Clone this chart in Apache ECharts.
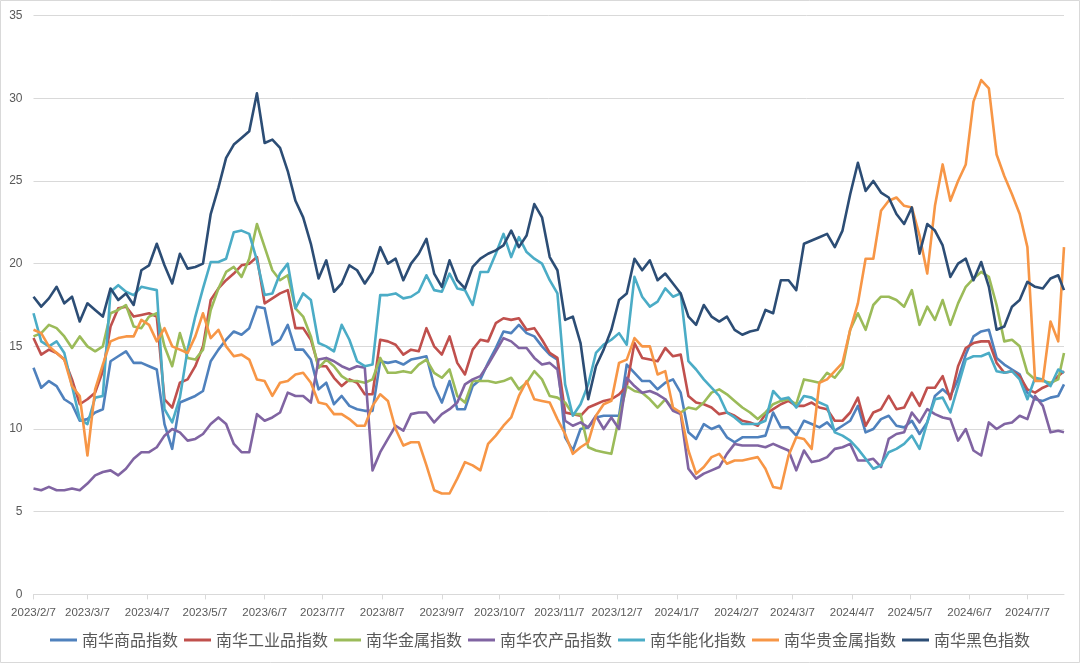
<!DOCTYPE html>
<html><head><meta charset="utf-8">
<script src="https://cdn.jsdelivr.net/npm/echarts@6/dist/echarts.min.js"></script>
<style>html,body{margin:0;padding:0;background:#fff}#c{width:1080px;height:663px}</style>
</head><body><div id="c"></div>
<script>
// x range (calendar days) and sampling step of the values below
const START = [2023, 2, 7], END = [2024, 7, 26], STEP = 4;
const tickLabels = ['2023/2/7','2023/3/7','2023/4/7','2023/5/7','2023/6/7','2023/7/7','2023/8/7','2023/9/7','2023/10/7','2023/11/7','2023/12/7','2024/1/7','2024/2/7','2024/3/7','2024/4/7','2024/5/7','2024/6/7','2024/7/7'];
const seriesNames = ['南华商品指数','南华工业品指数','南华金属指数','南华农产品指数','南华能化指数','南华贵金属指数','南华黑色指数'];

const commodity = [13.7,12.5,12.9,12.6,11.8,11.5,10.5,10.6,11.0,11.2,14.1,14.4,14.7,14.0,14.0,13.8,13.6,10.3,
 8.8,11.6,11.8,12.0,12.3,14.1,14.8,15.4,15.9,15.7,16.1,17.4,17.3,15.1,15.4,16.3,14.8,
 14.8,14.2,12.4,12.8,11.5,12.0,11.4,11.2,11.1,11.1,14.1,14.0,14.1,13.9,14.2,14.3,14.4,
 12.6,11.6,12.9,11.2,11.2,12.6,13.0,14.0,14.9,15.9,15.8,16.3,15.8,15.6,15.0,14.5,14.2,
 9.5,8.7,10.0,10.1,10.7,10.8,10.8,10.8,13.9,13.4,12.9,12.9,12.4,12.8,13.0,12.2,9.8,
 9.4,10.3,10.0,10.2,9.5,9.2,9.5,9.5,9.5,9.6,11.0,10.1,10.1,9.6,10.5,10.3,
 10.1,10.4,9.9,10.2,10.5,11.4,9.8,10.0,10.6,10.8,10.2,10.1,10.5,9.7,10.4,12.0,12.4,
 12.0,13.0,14.5,15.6,15.9,16.0,14.3,13.9,13.6,13.3,12.2,11.8,11.7,11.9,12.0,12.7];
const industrial = [15.5,14.5,14.8,14.6,14.2,13.0,11.5,11.8,12.2,13.5,16.2,17.3,17.4,16.8,16.9,17.0,16.8,11.8,
 11.3,12.8,13.0,13.8,15.0,17.8,18.5,19.0,19.4,19.9,20.0,20.4,17.6,17.9,18.2,18.4,16.1,
 16.1,15.4,13.8,13.8,13.1,12.6,13.0,12.8,12.1,12.1,15.4,15.3,15.1,14.5,14.8,14.7,16.1,
 15.0,14.5,15.6,14.0,13.3,14.8,15.4,15.3,16.4,16.7,16.6,16.7,16.0,16.1,15.4,14.6,14.3,
 11.0,10.9,10.8,11.3,11.5,11.7,11.8,12.1,12.6,15.2,14.3,14.2,14.1,14.9,14.4,14.5,12.0,
 11.6,11.5,11.3,10.9,11.0,10.8,10.5,10.4,10.2,10.9,11.2,11.5,11.7,11.4,11.4,11.6,
 11.3,11.2,10.5,10.5,11.0,11.9,10.2,11.0,11.2,12.0,11.2,11.3,12.2,11.4,12.5,12.5,13.2,
 11.8,13.8,14.9,15.2,15.3,15.3,14.0,13.4,13.5,13.2,12.4,12.2,12.5,12.7,13.2,13.5];
const metals = [15.6,15.8,16.3,16.1,15.6,14.9,15.6,15.0,14.7,15.0,17.0,17.2,17.5,16.2,16.1,16.8,17.0,15.0,
 13.8,15.8,14.3,14.2,14.8,17.2,18.5,19.5,19.8,19.2,20.3,22.4,21.0,19.6,19.0,19.3,17.3,
 16.8,15.6,13.7,14.2,13.8,13.2,12.9,12.9,12.8,13.0,14.3,13.4,13.4,13.5,13.4,13.9,14.2,
 13.4,13.1,13.6,12.0,11.6,12.9,12.9,12.9,12.8,12.9,13.1,12.4,12.8,13.5,13.0,12.0,11.9,
 11.6,10.9,10.9,8.9,8.7,8.6,8.5,10.7,12.6,12.3,12.2,11.8,11.3,11.8,11.2,11.0,11.3,
 11.2,11.6,12.2,12.4,12.1,11.7,11.3,11.0,10.6,11.0,11.5,11.7,11.8,11.5,13.0,12.9,
 12.8,13.4,13.1,13.7,16.0,17.0,16.0,17.5,18.0,18.0,17.8,17.4,18.4,16.3,17.4,16.6,17.8,
 16.3,17.6,18.6,19.1,19.5,19.2,17.5,15.3,15.4,15.0,13.4,13.0,12.9,12.8,13.0,14.6];
const agri = [6.4,6.3,6.5,6.3,6.3,6.4,6.3,6.7,7.2,7.4,7.5,7.2,7.6,8.2,8.6,8.6,8.9,9.6,
 10.0,9.8,9.3,9.4,9.7,10.3,10.7,10.3,9.1,8.6,8.6,10.9,10.5,10.7,11.0,12.2,12.0,
 12.0,11.6,14.2,14.3,14.1,13.8,13.6,13.8,13.7,7.5,8.6,9.4,10.2,9.9,10.9,11.0,11.0,
 10.4,10.9,11.2,11.6,12.7,13.0,13.2,13.9,14.7,15.5,15.3,14.9,14.9,14.3,13.9,14.0,13.6,
 10.5,10.2,10.4,10.1,10.8,10.0,10.7,10.0,13.1,12.6,12.2,12.3,12.1,11.8,11.1,10.9,7.6,
 7.0,7.3,7.5,7.7,8.5,9.1,9.0,9.0,9.0,8.9,9.1,8.9,8.7,7.5,8.7,8.0,
 8.1,8.3,8.8,8.9,9.1,8.1,8.1,8.2,7.7,9.4,9.7,9.8,11.0,10.4,11.2,10.9,10.7,
 10.6,9.3,10.0,8.7,8.4,10.4,10.0,10.3,10.4,10.8,10.6,12.0,11.4,9.8,9.9,9.8];
const energy = [17.0,15.3,15.0,15.3,14.6,12.6,10.6,10.3,11.9,12.0,18.3,18.7,18.3,18.1,18.6,18.5,18.4,11.2,
 10.4,11.9,14.8,16.8,18.5,20.1,20.1,20.3,21.9,22.0,21.8,20.2,18.1,18.2,19.4,20.0,17.3,
 18.2,17.8,15.2,15.0,14.7,16.3,15.4,14.1,13.8,13.9,18.1,18.1,18.2,17.9,18.0,18.3,19.3,
 18.4,18.3,19.4,18.5,18.4,17.5,19.5,19.5,20.6,21.8,20.4,21.6,20.7,20.3,20.0,19.0,18.2,
 12.7,10.8,11.5,12.7,14.6,15.1,15.4,15.8,15.1,19.2,18.0,17.4,17.7,18.5,18.0,18.2,14.1,
 13.6,13.0,12.5,12.0,11.0,10.7,10.3,10.3,10.3,10.5,12.3,11.8,11.9,11.3,12.0,11.9,
 11.6,11.4,9.8,9.6,9.3,8.8,8.2,7.6,7.8,8.6,8.8,9.1,9.6,8.8,10.4,11.8,11.9,
 11.0,12.6,14.2,14.4,14.4,14.6,13.5,13.4,13.5,13.0,11.8,13.1,13.0,12.6,13.6,13.4];
const precious = [16.0,15.8,15.0,14.6,14.2,12.6,12.0,8.4,12.4,13.9,15.3,15.5,15.6,15.6,16.6,16.3,15.3,16.1,
 15.0,14.8,14.6,15.6,17.0,15.5,16.0,15.0,14.4,14.5,14.2,13.0,12.9,12.0,12.8,12.9,13.3,
 13.4,12.8,11.6,11.5,10.9,10.9,10.6,10.2,10.2,11.4,12.1,11.7,10.0,9.0,9.2,9.2,7.8,
 6.3,6.1,6.1,7.0,8.0,7.8,7.5,9.1,9.6,10.2,10.7,12.0,12.9,11.8,11.7,11.6,10.6,
 9.7,8.5,8.9,9.2,10.8,11.5,11.7,14.0,14.2,15.5,15.0,15.0,13.3,13.5,11.3,11.0,8.7,
 7.3,7.7,8.3,8.5,7.9,8.1,8.1,8.2,8.3,7.6,6.5,6.4,8.4,9.5,9.4,8.8,
 12.8,13.0,13.5,14.0,16.0,17.6,20.3,20.3,23.2,23.8,24.0,23.5,23.4,21.7,19.4,23.5,26.0,
 23.8,25.0,26.0,29.8,31.1,30.6,26.6,25.3,24.2,23.0,21.0,12.9,12.9,16.5,15.3,21.0];
const ferrous = [18.0,17.4,17.9,18.6,17.6,18.0,16.5,17.6,17.2,16.8,18.5,17.8,18.2,17.5,19.6,19.9,21.2,19.9,
 18.8,20.6,19.7,19.8,20.0,23.0,24.6,26.4,27.2,27.6,28.0,30.3,27.3,27.5,27.0,25.6,23.8,
 22.8,21.2,19.1,20.2,18.3,18.8,19.9,19.6,18.8,19.5,21.0,20.0,20.3,19.0,20.0,20.6,21.5,
 19.4,18.6,20.2,19.0,18.5,19.8,20.3,20.6,20.8,21.1,22.0,21.0,21.7,23.6,22.8,20.4,19.6,
 16.6,16.8,15.2,11.8,13.8,14.8,16.0,17.8,18.2,20.3,19.6,20.2,19.0,19.4,18.8,18.2,16.8,
 16.3,17.5,16.8,16.5,16.8,16.0,15.7,15.9,16.0,17.2,17.0,19.0,19.0,18.4,21.2,21.4,
 21.6,21.8,21.0,22.0,24.2,26.1,24.4,25.0,24.3,24.0,23.0,22.4,23.4,20.6,22.4,22.0,21.1,
 19.2,20.0,20.3,19.0,20.1,18.6,16.0,16.2,17.4,17.8,18.9,18.6,18.5,19.1,19.3,18.4];

const colors = ['#4F81BD','#C0504D','#9BBB59','#8064A2','#4BACC6','#F79646','#2C4D75'];
const values = [commodity, industrial, metals, agri, energy, precious, ferrous];

function fmt(d){return d.getFullYear()+'/'+(d.getMonth()+1)+'/'+d.getDate();}
const categories = [];
const endDate = new Date(END[0], END[1]-1, END[2]);
for (let d = new Date(START[0], START[1]-1, START[2]); d <= endDate; d.setDate(d.getDate()+1)) categories.push(fmt(d));
const sampleDates = categories.filter((c,i)=> i % STEP === 0);
if (sampleDates[sampleDates.length-1] !== categories[categories.length-1]) sampleDates.push(categories[categories.length-1]);
const tickSet = new Set(tickLabels);
const showTick = (i, v) => tickSet.has(v);

const chart = echarts.init(document.getElementById('c'), null, {renderer:'canvas'});
chart.setOption({
  animation: false,
  backgroundColor: '#fff',
  graphic: [{type:'rect', shape:{x:0.5,y:0.5,width:1079,height:662}, style:{fill:'none', stroke:'#D9D9D9', lineWidth:1}, silent:true}],
  grid: {left: 33.5, right: 16, top: 15.6, bottom: 68.6, containLabel: false},
  legend: {
    bottom: 10, left: 'center', itemWidth: 27, itemHeight: 3, itemGap: 6, icon: 'rect',
    textStyle: {fontFamily: 'Noto Sans CJK SC', fontSize: 16, color: '#595959'},
    data: seriesNames
  },
  xAxis: {
    type: 'category', data: categories, boundaryGap: false,
    axisLine: {lineStyle: {color: '#D9D9D9', width: 1}},
    axisTick: {show: true, interval: showTick, length: 5, lineStyle: {color: '#D9D9D9'}},
    axisLabel: {interval: showTick, color: '#595959', fontFamily: 'Liberation Sans', fontSize: 11.5, margin: 12, hideOverlap: false},
    splitLine: {show: false}
  },
  yAxis: {
    type: 'value', min: 0, max: 35, interval: 5,
    axisLine: {show: false}, axisTick: {show: false},
    axisLabel: {color: '#595959', fontFamily: 'Liberation Sans', fontSize: 12, margin: 11},
    splitLine: {lineStyle: {color: '#D9D9D9', width: 1}}
  },
  series: seriesNames.map((n, si) => ({
    name: n, type: 'line', showSymbol: false, symbol: 'none',
    lineStyle: {width: 2.6, color: colors[si], join: 'round'},
    itemStyle: {color: colors[si]},
    data: sampleDates.map((d, i) => [d, values[si][i]])
  }))
});
</script></body></html>
